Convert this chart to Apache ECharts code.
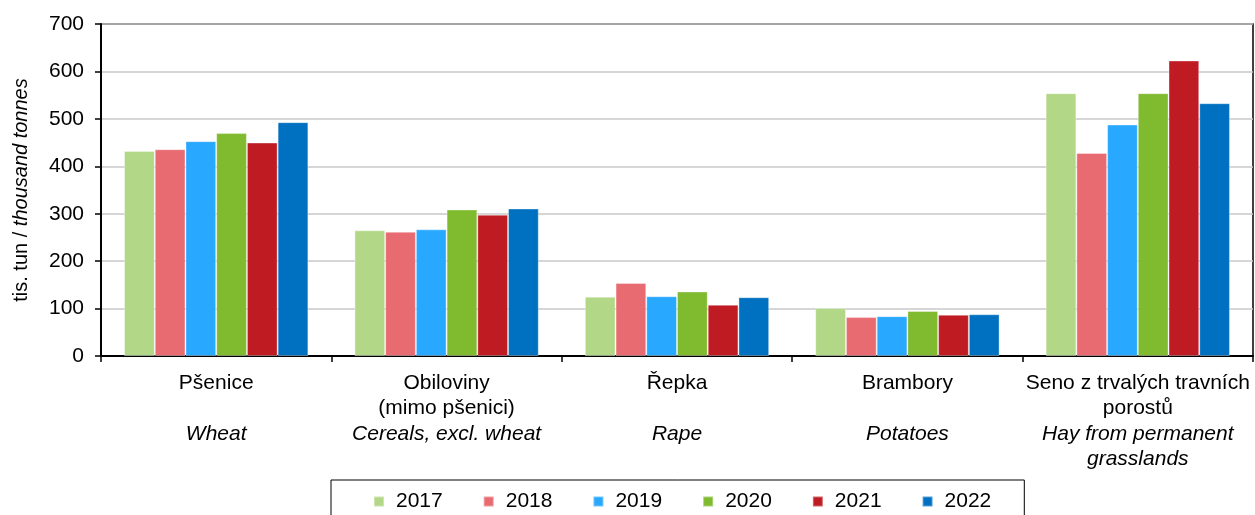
<!DOCTYPE html>
<html>
<head>
<meta charset="utf-8">
<script src="https://cdn.jsdelivr.net/npm/echarts@6/dist/echarts.min.js"></script>
<style>
  html, body { margin: 0; padding: 0; background: #fff; }
  #main { width: 1255px; height: 515px; }
</style>
</head>
<body>
<div id="main"></div>
<script>
// kategorie (cesky + anglicky)
var categories = [
  'Pšenice\n\n{i|Wheat}',
  'Obiloviny\n(mimo pšenici)\n{i|Cereals, excl. wheat}',
  'Řepka\n\n{i|Rape}',
  'Brambory\n\n{i|Potatoes}',
  'Seno z trvalých travních\nporostů\n{i|Hay from permanent}\n{i|grasslands}'
];
var years = ['2017', '2018', '2019', '2020', '2021', '2022'];
var colors = ['#b2d786', '#e96b72', '#29a8ff', '#7fba2f', '#be1b23', '#0070c0'];

// tis. tun
var v2017 = [432, 265, 125, 101, 554];
var v2018 = [436, 262, 154, 82, 428];
var v2019 = [453, 267, 126, 84, 488];
var v2020 = [470, 309, 136, 95, 554];
var v2021 = [450, 298, 108, 87, 623];
var v2022 = [493, 311, 124, 88, 533];
var values = [v2017, v2018, v2019, v2020, v2021, v2022];

var yMin = 0, yMax = 700, yStep = 100;

var font = 'Liberation Sans, Arial, sans-serif';
var chart = echarts.init(document.getElementById('main'), null, { renderer: 'canvas' });

var series = [];
for (var i = 0; i < years.length; i++) {
  series.push({
    name: years[i],
    type: 'bar',
    data: values[i],
    barGap: '0%',
    barCategoryGap: '20%',
    itemStyle: { color: colors[i], borderColor: 'rgba(255,255,255,0.35)', borderWidth: 1 }
  });
}

var option = {
  backgroundColor: '#ffffff',
  animation: false,
  color: colors,
  textStyle: { fontFamily: font, color: '#000' },
  grid: {
    left: 101, right: 2, top: 24, bottom: 159,
    show: true, borderColor: '#000', borderWidth: 1.5, containLabel: false
  },
  legend: {
    data: years,
    left: 331,
    top: 480,
    padding: [11, 33, 11, 42],
    borderColor: '#000',
    borderWidth: 1,
    itemWidth: 10,
    itemHeight: 10,
    itemGap: 40,
    icon: 'rect',
    textStyle: { fontSize: 21, fontFamily: font, color: '#000', padding: [0, 0, 0, 7] }
  },
  xAxis: {
    type: 'category',
    data: categories,
    axisLine: { lineStyle: { color: '#000', width: 2 } },
    axisTick: { show: true, length: 6, lineStyle: { color: '#000', width: 1.5 } },
    axisLabel: {
      interval: 0,
      margin: 14,
      fontSize: 21,
      lineHeight: 25.5,
      color: '#000',
      fontFamily: font,
      align: 'center',
      rich: {
        i: { fontStyle: 'italic', fontSize: 21, lineHeight: 25.5, fontFamily: font, color: '#000' }
      }
    }
  },
  yAxis: {
    type: 'value',
    min: yMin,
    max: yMax,
    interval: yStep,
    name: 'tis. tun / {i|thousand tonnes}',
    nameLocation: 'middle',
    nameGap: 70,
    nameRotate: 90,
    nameTextStyle: {
      fontSize: 20, color: '#000', fontFamily: font,
      rich: { i: { fontStyle: 'italic', fontSize: 20, color: '#000', fontFamily: font } }
    },
    axisLine: { show: true, lineStyle: { color: '#000', width: 2 } },
    axisTick: { show: true, length: 6, lineStyle: { color: '#000', width: 1.5 } },
    axisLabel: { fontSize: 21, margin: 17, color: '#000', fontFamily: font },
    splitLine: { lineStyle: { color: '#c8c8c8', width: 1.5 } }
  },
  series: series
};

chart.setOption(option);
</script>
</body>
</html>
